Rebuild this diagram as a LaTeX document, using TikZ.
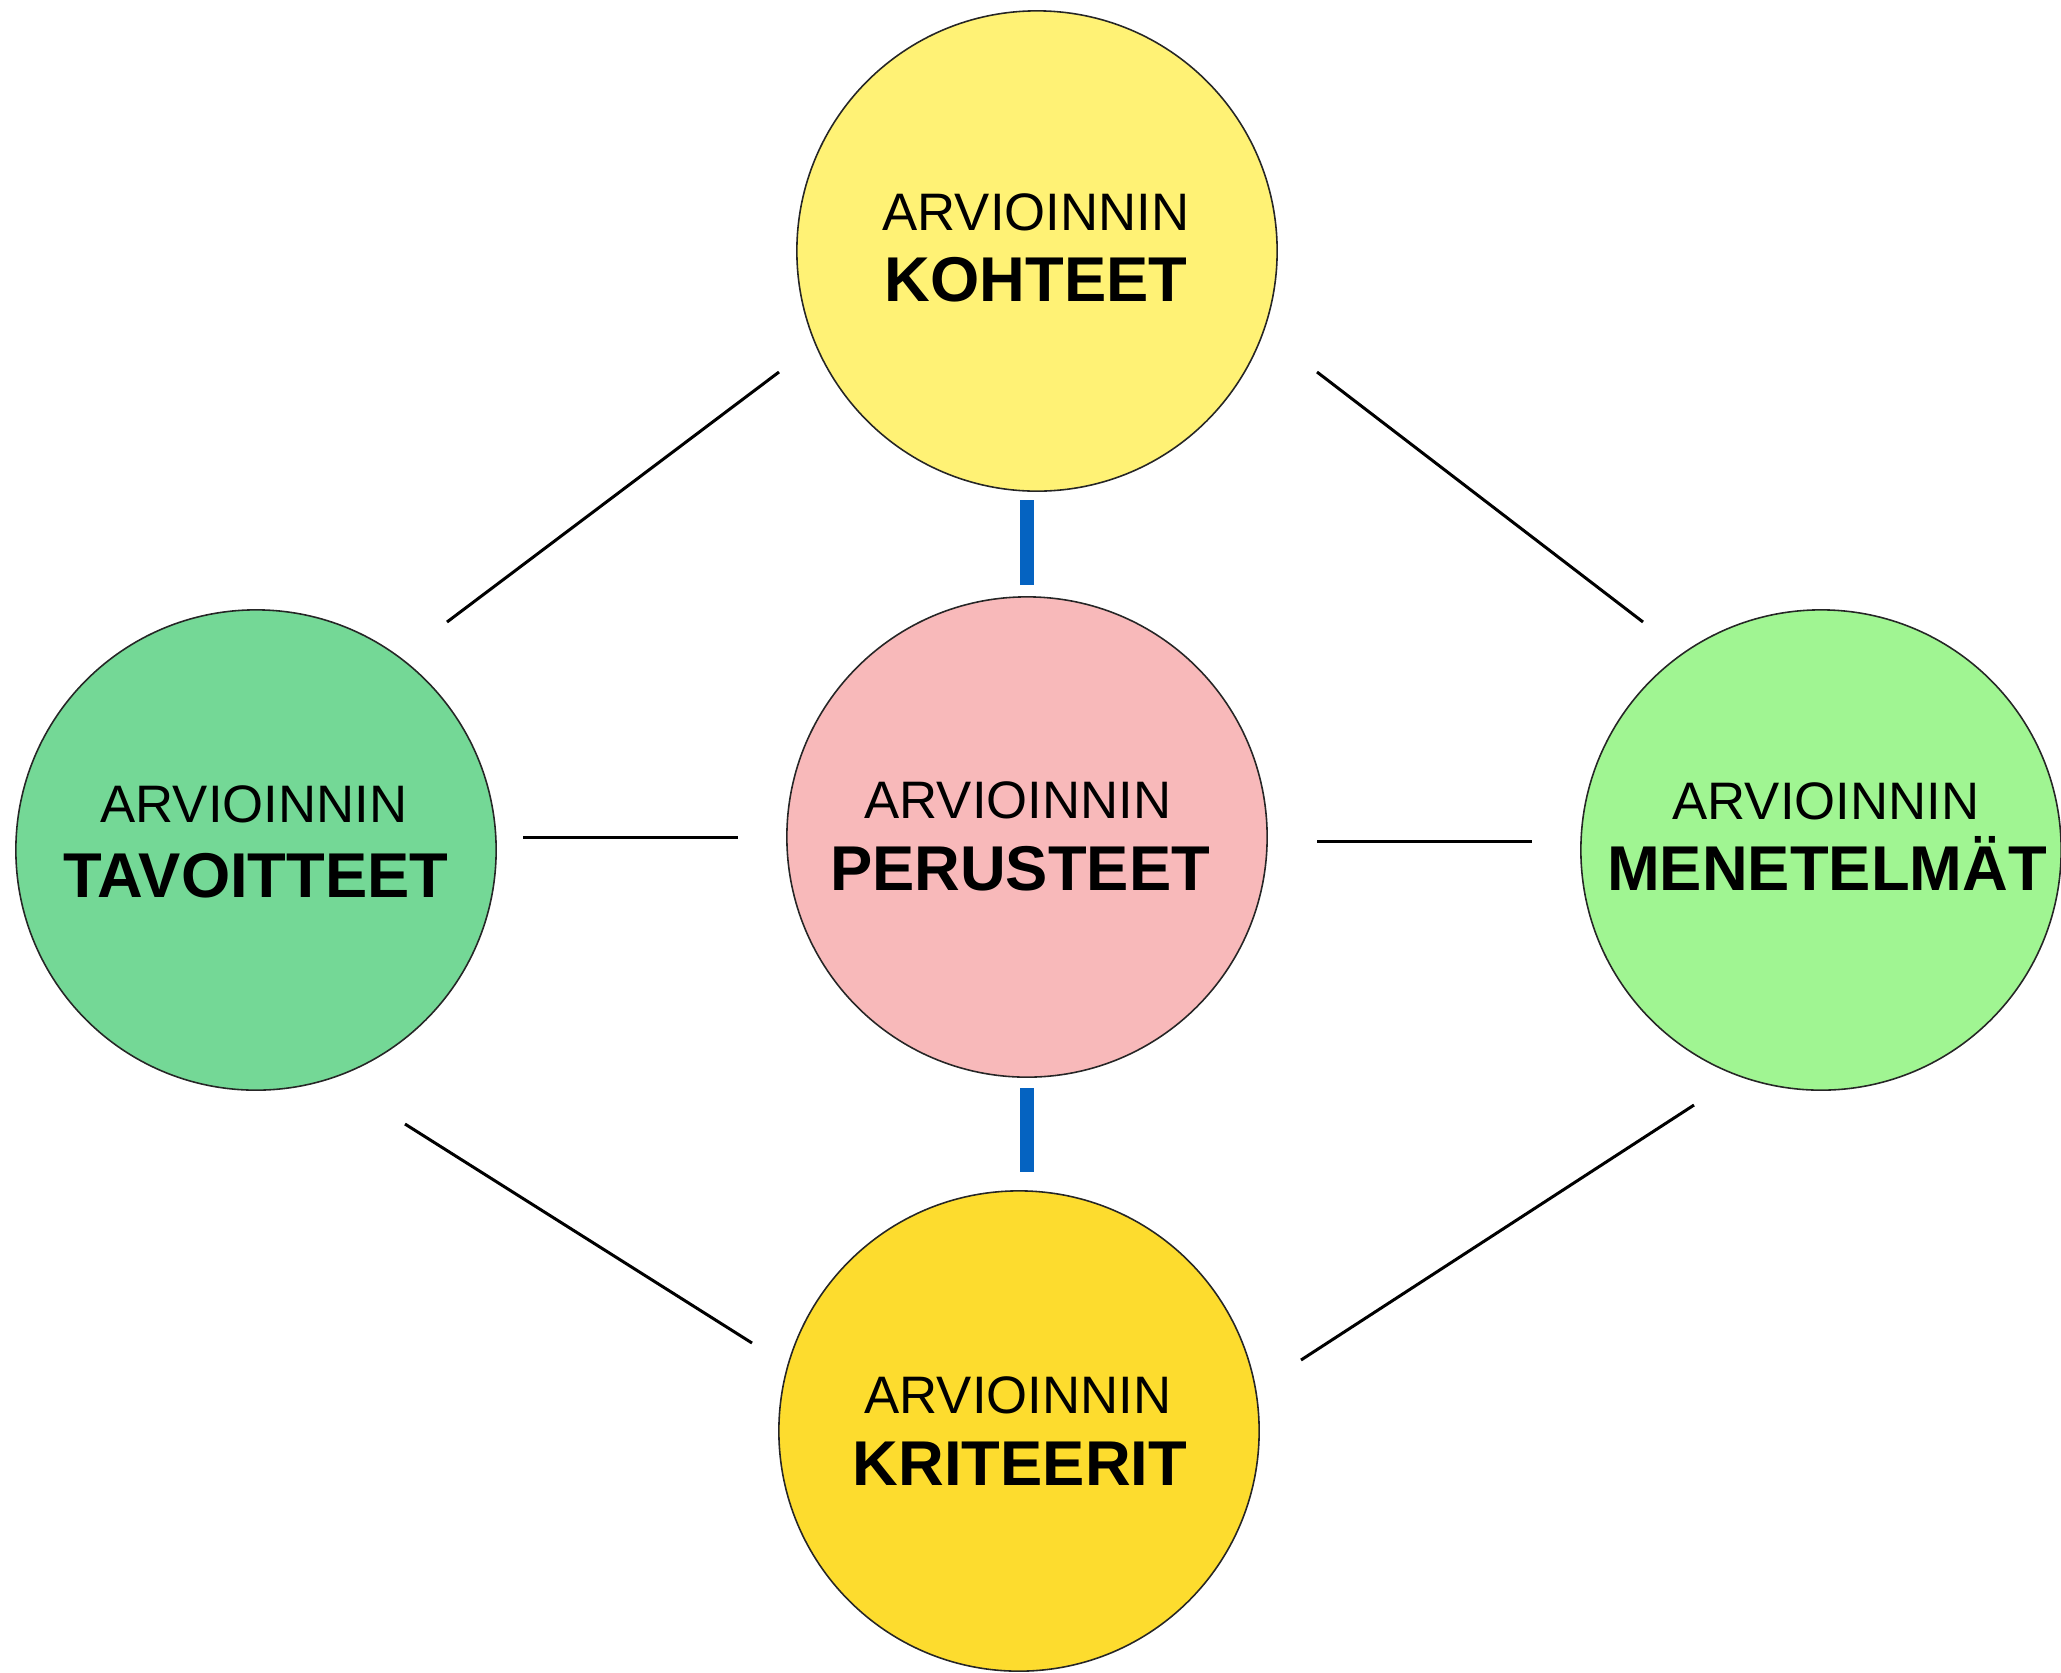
\documentclass[tikz,border=0pt]{standalone}
\usepackage{fontspec}
\setmainfont{Liberation Sans}
\definecolor{cyel}{HTML}{FFF275}
\definecolor{cpink}{HTML}{F8B9BA}
\definecolor{cgreenA}{HTML}{74D896}
\definecolor{cgreenB}{HTML}{A0F592}
\definecolor{cgold}{HTML}{FDDC2E}
\definecolor{cblue}{HTML}{0563C1}
\tikzset{
  ball/.style={circle, draw=black!85, line width=0.45pt, minimum size=4.8cm, inner sep=0pt},
  small/.style={anchor=base, inner sep=0pt, font=\fontsize{15}{18}\selectfont},
  big/.style={anchor=base, inner sep=0pt, font=\fontsize{18}{21}\selectfont\bfseries},
  link/.style={draw=black, line width=0.85pt},
  bluelink/.style={draw=cblue, line width=0.4cm*0.35},
}
\begin{document}
\begin{tikzpicture}[x=0.01cm, y=-0.01cm]
\useasboundingbox (0,0) rectangle (2061,1672);
% circles
\node[ball, fill=cyel]    (top)    at (1037,251)  {};
\node[ball, fill=cpink]   (center) at (1027,837)  {};
\node[ball, fill=cgreenA] (left)   at (256,850)   {};
\node[ball, fill=cgreenB] (right)  at (1821,850)  {};
\node[ball, fill=cgold]   (bottom) at (1019,1431) {};
% texts
\node[small] (t1) at (1036,230) {ARVIOINNIN};
\node[big]   (t2) at (1036,301) {KOHTEET};
\node[small] (c1) at (1018,818) {ARVIOINNIN};
\node[big]   (c2) at (1020,890) {PERUSTEET};
\node[small] (l1) at (254,822) {ARVIOINNIN};
\node[big]   (l2) at (256,897) {TAVOITTEET};
\node[small] (r1) at (1826,819) {ARVIOINNIN};
\node[big]   (r2) at (1827,890) {MENETELMÄT};
\node[small] (b1) at (1018,1413) {ARVIOINNIN};
\node[big]   (b2) at (1020,1485) {KRITEERIT};
% connector end points
\coordinate (tlA) at (779,372);  \coordinate (tlB) at (447,622);
\coordinate (trA) at (1317,372); \coordinate (trB) at (1643,622);
\coordinate (lcA) at (523,837);  \coordinate (lcB) at (738,837);
\coordinate (crA) at (1317,841); \coordinate (crB) at (1532,841);
\coordinate (blA) at (405,1124); \coordinate (blB) at (752,1343);
\coordinate (brA) at (1694,1105);\coordinate (brB) at (1301,1360);
\coordinate (bu1A) at (1027,500); \coordinate (bu1B) at (1027,585);
\coordinate (bu2A) at (1027,1088);\coordinate (bu2B) at (1027,1172);
\draw[link] (tlA) -- (tlB);
\draw[link] (trA) -- (trB);
\draw[link] (lcA) -- (lcB);
\draw[link] (crA) -- (crB);
\draw[link] (blA) -- (blB);
\draw[link] (brA) -- (brB);
\draw[bluelink] (bu1A) -- (bu1B);
\draw[bluelink] (bu2A) -- (bu2B);
\end{tikzpicture}
\end{document}
